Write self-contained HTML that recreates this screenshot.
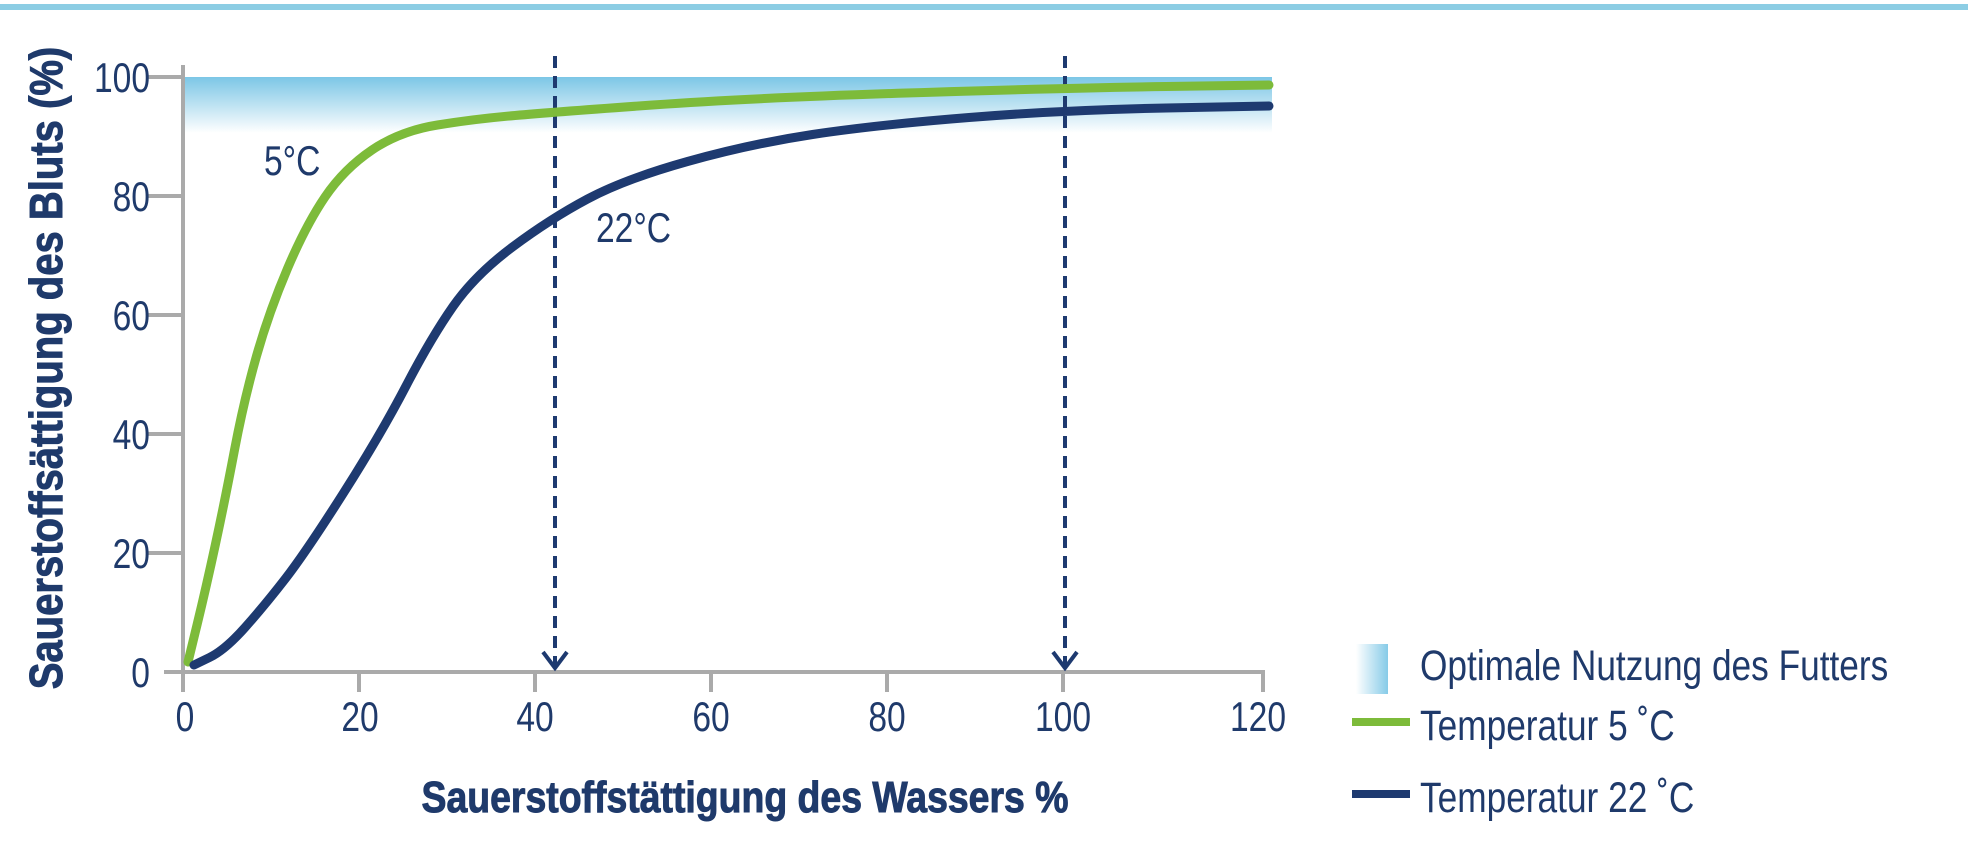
<!DOCTYPE html>
<html><head><meta charset="utf-8"><style>
html,body{margin:0;padding:0;background:#fff;}
svg{display:block;}
text{font-family:"Liberation Sans",sans-serif;fill:#1f3a6b;}
.t{font-size:42px;}
.l{font-size:43px;}
</style></head><body>
<svg width="1968" height="843" viewBox="0 0 1968 843" xmlns="http://www.w3.org/2000/svg">
<defs>
<linearGradient id="band" x1="0" y1="0" x2="0" y2="1">
<stop offset="0" stop-color="#7cc6e6"/><stop offset="0.55" stop-color="#c4e5f3"/><stop offset="1" stop-color="#ffffff"/>
</linearGradient>
<linearGradient id="leg" x1="0" y1="0" x2="1" y2="0">
<stop offset="0" stop-color="#ffffff"/><stop offset="1" stop-color="#86cbe8"/>
</linearGradient>
</defs>
<rect x="0" y="4" width="1968" height="6" fill="#8ccde4"/>
<rect x="183" y="77" width="1089" height="56" fill="url(#band)"/>
<g stroke="#aaaaaa" stroke-width="4" fill="none">
<line x1="183" y1="65" x2="183" y2="692"/>
<line x1="164" y1="672" x2="1265" y2="672"/>
<line x1="147" y1="77" x2="183" y2="77"/>
<line x1="147" y1="196" x2="183" y2="196"/>
<line x1="147" y1="315" x2="183" y2="315"/>
<line x1="147" y1="434" x2="183" y2="434"/>
<line x1="147" y1="553" x2="183" y2="553"/>
<line x1="359" y1="672" x2="359" y2="692"/>
<line x1="535" y1="672" x2="535" y2="692"/>
<line x1="711" y1="672" x2="711" y2="692"/>
<line x1="887" y1="672" x2="887" y2="692"/>
<line x1="1063" y1="672" x2="1063" y2="692"/>
<line x1="1263" y1="672" x2="1263" y2="692"/>
</g>
<g class="t" text-anchor="end">
<text transform="translate(150 92) scale(0.8 1)">100</text>
<text transform="translate(150 211) scale(0.8 1)">80</text>
<text transform="translate(150 330) scale(0.8 1)">60</text>
<text transform="translate(150 449) scale(0.8 1)">40</text>
<text transform="translate(150 568) scale(0.8 1)">20</text>
<text transform="translate(150 687) scale(0.8 1)">0</text>
</g>
<g class="t" text-anchor="middle">
<text transform="translate(185 731) scale(0.8 1)">0</text>
<text transform="translate(360 731) scale(0.8 1)">20</text>
<text transform="translate(535 731) scale(0.8 1)">40</text>
<text transform="translate(711 731) scale(0.8 1)">60</text>
<text transform="translate(887 731) scale(0.8 1)">80</text>
<text transform="translate(1063 731) scale(0.8 1)">100</text>
<text transform="translate(1258 731) scale(0.8 1)">120</text>
</g>
<g stroke="#1e3a70" stroke-width="4" fill="none">
<line x1="555" y1="56" x2="555" y2="668" stroke-dasharray="12 8"/>
<polyline points="543,652 555,668 567,652"/>
<line x1="1065" y1="56" x2="1065" y2="668" stroke-dasharray="12 8"/>
<polyline points="1053,652 1065,668 1077,652"/>
</g>
<path d="M188,662 L197,625 Q206,588 215.5,544 Q225,500 234.5,450 Q244,400 256.5,356 Q269,312 287.5,268.5 Q306,225 325,197 Q344,169 372,150 Q400,131 437.5,125 Q475,119 515,115.5 Q555,112 652.5,105 Q750,98 906.5,93 Q1063,88 1166,86.5 L1269,85" fill="none" stroke="#7dbb3a" stroke-width="9" stroke-linecap="round" stroke-linejoin="round"/>
<path d="M194,665 L209.5,657.5 Q225,650 245,627.5 Q265,605 285.5,578.5 Q306,552 343.5,493 Q381,434 406,386 Q431,338 453,306.5 Q475,275 512.5,247 Q550,219 587.5,199 Q625,179 687.5,161.5 Q750,144 812.5,134.5 Q875,125 969,117.5 Q1063,110 1166,108 L1269,106" fill="none" stroke="#1e3a70" stroke-width="9" stroke-linecap="round" stroke-linejoin="round"/>
<text class="t" transform="translate(264 175) scale(0.8 1)">5°C</text>
<text class="t" transform="translate(596 242) scale(0.8 1)">22°C</text>
<text text-anchor="middle" font-weight="bold" font-size="44" transform="translate(745 812) scale(0.85 1)" stroke="#1f3a6b" stroke-width="1">Sauerstoffstättigung des Wassers %</text>
<text text-anchor="middle" font-weight="bold" font-size="46" transform="translate(62 368) rotate(-90) scale(0.87 1)" stroke="#1f3a6b" stroke-width="1">Sauerstoffsättigung des Bluts (%)</text>
<rect x="1356" y="644" width="32" height="50" fill="url(#leg)"/>
<text class="l" transform="translate(1420 680) scale(0.82 1)">Optimale Nutzung des Futters</text>
<rect x="1352" y="718" width="58" height="8" fill="#7dbb3a"/>
<text class="l" transform="translate(1420 740) scale(0.82 1)">Temperatur 5 ˚C</text>
<rect x="1352" y="790" width="58" height="8" fill="#1e3a70"/>
<text class="l" transform="translate(1420 812) scale(0.82 1)">Temperatur 22 ˚C</text>
</svg>
</body></html>
